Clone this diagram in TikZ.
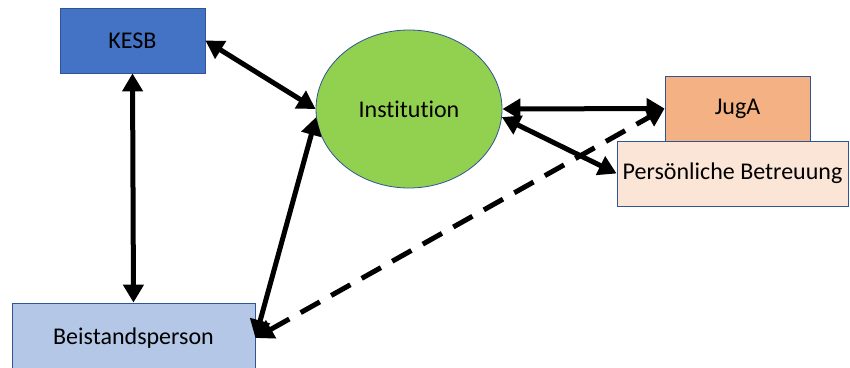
\documentclass[tikz,border=0pt]{standalone}
\usepackage{fontspec}
\setmainfont{Carlito}[Ligatures=NoCommon]
\usetikzlibrary{arrows.meta,shapes.geometric}
\definecolor{kesbfill}{HTML}{4472C4}
\definecolor{instfill}{HTML}{92D050}
\definecolor{jugafill}{HTML}{F4B183}
\definecolor{persfill}{HTML}{FBE5D6}
\definecolor{beisfill}{HTML}{B4C7E7}
\definecolor{edgeblue}{HTML}{2F5597}
\begin{document}
\begin{tikzpicture}[x=1pt,y=-1pt,
  box/.style={draw=edgeblue,line width=0.8pt,rectangle,inner sep=0pt,font=\fontsize{24}{28}\selectfont,text=black},
  conn/.style={line width=5pt,{Triangle[length=18pt,width=20pt]}-{Triangle[length=18pt,width=20pt]}},
  dconn/.style={conn,dash pattern=on 22pt off 13pt}]
\useasboundingbox (0,0) rectangle (850,367);
\node[box,fill=kesbfill,minimum width=145pt,minimum height=65pt] (kesb) at (132.5,40.5) {KESB};
\node[box,ellipse,fill=instfill,minimum width=186pt,minimum height=158pt] (inst) at (409,109) {Institution};
\node[box,fill=jugafill,minimum width=145pt,minimum height=65pt] (juga) at (737.5,108.5) {JugA};
\node[box,fill=persfill,minimum width=231pt,minimum height=65pt] (pers) at (732.5,173.5) {Persönliche Betreuung};
\node[box,fill=beisfill,minimum width=243pt,minimum height=70pt] (beis) at (133.5,338) {Beistandsperson};
\draw[conn] (kesb.east) -- (inst.west);
\draw[conn] (kesb.south) -- (beis.north);
\draw[conn] (inst.185) -- (beis.east);
\draw[conn] (inst.east) -- (juga.west);
\draw[conn] (inst.-5) -- (pers.west);
\draw[dconn] (beis.east) -- (juga.west);
\end{tikzpicture}
\end{document}
